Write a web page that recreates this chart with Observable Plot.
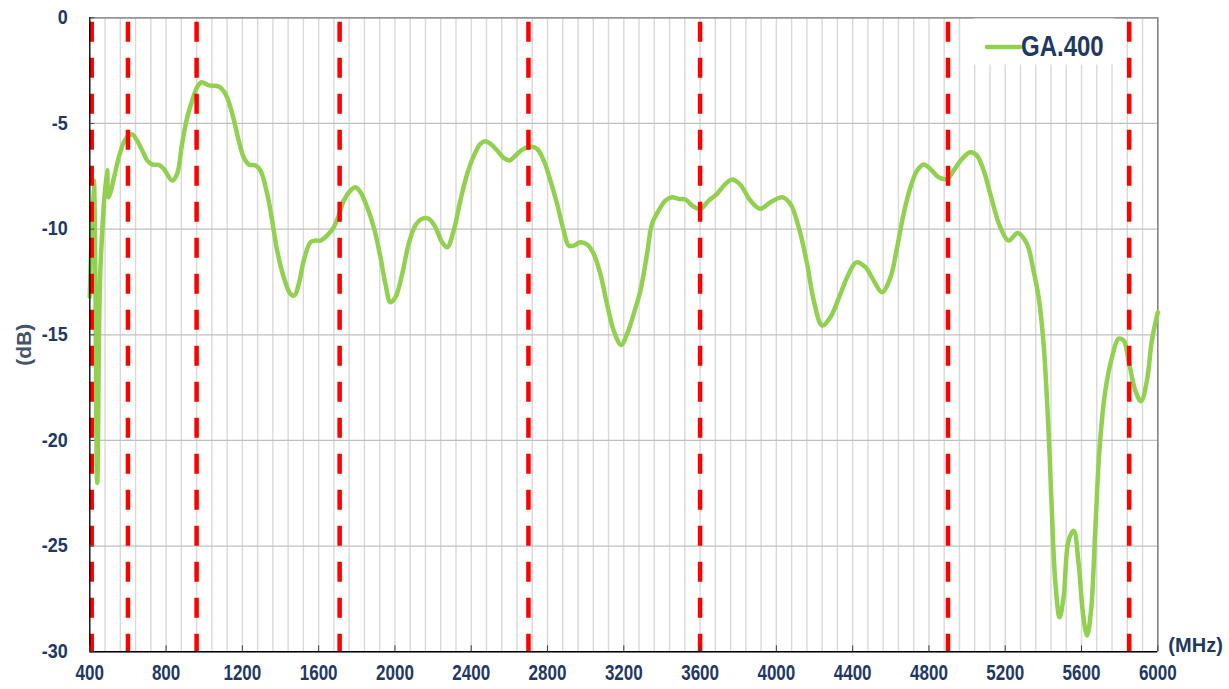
<!DOCTYPE html>
<html>
<head>
<meta charset="utf-8">
<script src="https://cdn.jsdelivr.net/npm/d3@7"></script>
<script src="https://cdn.jsdelivr.net/npm/@observablehq/plot@0.6"></script>
<style>
  html, body { margin: 0; padding: 0; background: #fff; }
  #chart { width: 1229px; height: 689px; }
</style>
</head>
<body>
<div id="chart"></div>
<script>
// ---- Data ----
const seriesName = "GA.400";
const freqMHz = [400, 421, 439, 456, 491, 498, 552, 578, 604, 622, 648, 675, 701, 727, 762, 788, 832, 858, 884, 911,
  937, 963, 986, 1024, 1076, 1111, 1147, 1181, 1207, 1234, 1269, 1295, 1330, 1356, 1382, 1417, 1452, 1473, 1496, 1522,
  1557, 1583, 1610, 1645, 1679, 1705, 1732, 1767, 1793, 1819, 1854, 1889, 1924, 1950, 1976, 2003, 2038, 2072, 2107, 2143,
  2177, 2212, 2247, 2274, 2308, 2343, 2379, 2418, 2448, 2474, 2501, 2536, 2570, 2602, 2632, 2667, 2710, 2745, 2780, 2815,
  2850, 2885, 2911, 2937, 2972, 3008, 3042, 3077, 3112, 3147, 3186, 3217, 3252, 3287, 3322, 3348, 3383, 3418, 3453, 3488,
  3523, 3558, 3602, 3645, 3689, 3733, 3768, 3811, 3864, 3916, 3969, 4030, 4073, 4117, 4161, 4196, 4240, 4283, 4336, 4379,
  4419, 4467, 4510, 4554, 4598, 4633, 4667, 4703, 4738, 4772, 4807, 4851, 4895, 4929, 4974, 5017, 5052, 5087, 5131, 5174,
  5218, 5265, 5314, 5348, 5375, 5401, 5427, 5445, 5462, 5485, 5506, 5532, 5559, 5585, 5608, 5629, 5650, 5672, 5695, 5725,
  5760, 5794, 5821, 5847, 5882, 5912, 5943, 5969, 6000];
const lossDb = [-13.2, -7.7, -22.0, -11.8, -7.2, -8.5, -6.6, -5.9, -5.57, -5.52, -5.81, -6.28, -6.75, -6.94, -6.96, -7.15, -7.7, -7.38, -5.96, -4.7,
  -3.91, -3.28, -3.05, -3.2, -3.25, -3.6, -4.54, -5.81, -6.6, -6.94, -6.99, -7.23, -8.33, -9.59, -11.0, -12.28, -13.06, -13.14, -12.59, -11.49,
  -10.62, -10.54, -10.54, -10.3, -9.91, -9.36, -8.65, -8.17, -8.02, -8.25, -8.96, -9.91, -11.33, -12.59, -13.46, -13.22, -12.12, -10.7, -9.83, -9.51,
  -9.51, -9.91, -10.62, -10.86, -10.07, -8.65, -7.38, -6.44, -5.96, -5.84, -5.96, -6.28, -6.63, -6.75, -6.52, -6.25, -6.09, -6.2, -6.75, -7.7,
  -8.8, -10.07, -10.78, -10.78, -10.62, -10.73, -11.17, -12.12, -13.54, -14.8, -15.48, -14.96, -14.01, -12.91, -11.17, -9.75, -9.12, -8.65, -8.49, -8.57,
  -8.6, -8.88, -9.04, -8.65, -8.33, -7.86, -7.65, -7.9, -8.65, -9.04, -8.73, -8.49, -8.8, -9.91, -11.64, -13.38, -14.56, -14.17, -13.06, -12.12,
  -11.57, -11.8, -12.43, -12.99, -12.28, -10.86, -9.28, -8.02, -7.23, -6.94, -7.15, -7.54, -7.62, -7.23, -6.67, -6.36, -6.52, -7.23, -8.65, -9.91,
  -10.54, -10.18, -10.7, -11.96, -13.22, -15.43, -19.53, -23.47, -26.63, -28.37, -27.42, -24.74, -24.27, -25.84, -28.21, -29.23, -28.05, -24.27, -20.32, -17.64,
  -16.06, -15.19, -15.27, -16.22, -17.64, -18.14, -17.17, -15.27, -13.93];
const bandEdgesMHz = [410, 600, 960, 1710, 2700, 3600, 4900, 5850];
const xTickLabels = [400, 800, 1200, 1600, 2000, 2400, 2800, 3200, 3600, 4000, 4400, 4800, 5200, 5600, 6000];
const yTickLabels = [0, -5, -10, -15, -20, -25, -30];
const xMinorGrid = d3.range(400, 6001, 80);
const xUnit = "(MHz)";
const yUnit = "(dB)";

const data = freqMHz.map((f, i) => ({f, db: lossDb[i]}));

const navy = "#1F3864";
const font = "'Liberation Sans', Arial, sans-serif";

const plot = Plot.plot({
  width: 1229,
  height: 689,
  marginLeft: 89.3,
  marginRight: 71.7,
  marginTop: 17.3,
  marginBottom: 37.7,
  style: {fontFamily: font, background: "#fff", overflow: "visible"},
  x: {domain: [400, 6000]},
  y: {domain: [-30, 0]},
  marks: [
    Plot.ruleX(xMinorGrid, {stroke: "#D9D9D9", strokeWidth: 1.4}),
    Plot.ruleY(yTickLabels, {stroke: "#C0C0C0", strokeWidth: 1.2}),
    Plot.ruleY([0], {stroke: "#808080", strokeWidth: 1.3}),
    Plot.ruleX([6000], {stroke: "#808080", strokeWidth: 1.5}),
    Plot.line(data, {x: "f", y: "db", curve: "catmull-rom", stroke: "#92D050", strokeWidth: 4.5, strokeLinejoin: "round", strokeLinecap: "round"}),
    Plot.ruleX(bandEdgesMHz, {stroke: "#FF0000", strokeWidth: 4.5, strokeDasharray: "20,16", strokeDashoffset: 31.5}),
    Plot.ruleX([400], {stroke: "#000", strokeWidth: 1.3}),
    Plot.ruleY([-30], {stroke: "#000", strokeWidth: 1.5}),
    Plot.axisX({ticks: xTickLabels, tickSize: 6, dy: -6, text: null, stroke: "#404040", label: null}),
    Plot.axisX({ticks: xTickLabels, tickSize: 0, tickPadding: 13, tickFormat: d => String(d),
      fontSize: 17, fontWeight: "bold", fill: navy, label: null, className: "xlab"}),
    Plot.axisY({ticks: yTickLabels, tickSize: 5, dx: 5, text: null, stroke: "#404040", label: null}),
    Plot.axisY({ticks: yTickLabels, tickSize: 0, tickPadding: 22, tickFormat: d => String(d),
      fontSize: 18, fontWeight: "bold", fill: navy, label: null, className: "ylab"}),
    Plot.text([xUnit], {frameAnchor: "bottom-right", dx: 65, dy: 0, textAnchor: "end",
      fontSize: 20, fontWeight: "bold", fill: navy}),
    Plot.text([yUnit], {frameAnchor: "left", dx: -66, dy: 31, rotate: -90,
      fontSize: 21, fontWeight: "bold", fill: "#44546A"})
  ]
});

const svg = d3.select(plot);
// Stretch tick labels vertically like the reference
svg.selectAll(".xlab text").attr("transform", function () {
  return (this.getAttribute("transform") || "") + " scale(1,1.25)";
});
svg.selectAll(".ylab text").attr("transform", function () {
  return (this.getAttribute("transform") || "") + " scale(1,1.08)";
});

// Legend box inside the plot area (top right)
const lg = svg.append("g");
lg.append("rect").attr("x", 973).attr("y", 18.5).attr("width", 142).attr("height", 46).attr("fill", "#fff");
lg.append("line").attr("x1", 987).attr("x2", 1020).attr("y1", 47).attr("y2", 47)
  .attr("stroke", "#92D050").attr("stroke-width", 4.5).attr("stroke-linecap", "round");
lg.append("text").attr("transform", "translate(1021,56) scale(1,1.2)").attr("text-anchor", "start").text(seriesName)
  .attr("font-family", font).attr("font-weight", "bold").attr("font-size", 24).attr("fill", navy);

document.getElementById("chart").appendChild(plot);
</script>
</body>
</html>
